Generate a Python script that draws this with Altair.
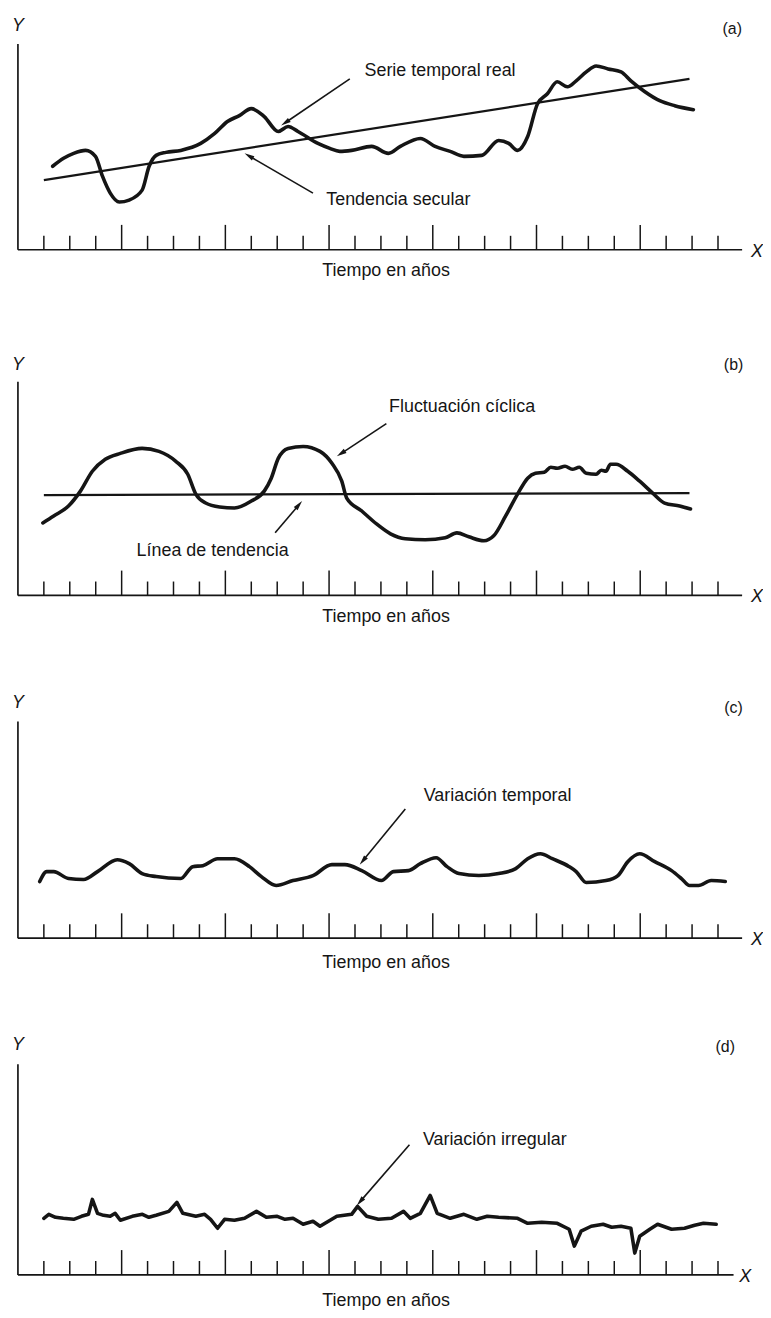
import math
import altair as alt
import pandas as pd

# ---------------- data ----------------
# x in years (ticks at whole years), y in arbitrary units above the time axis
tick_years = list(range(1, 28))
long_tick_years = [4, 8, 12, 16, 20, 24]

# (a) serie temporal real + tendencia secular
a_year = [1.34, 1.76, 2.15, 2.61, 2.99, 3.26, 3.56, 3.91, 4.29, 4.79, 5.06, 5.33, 5.71, 6.28, 7.05, 7.59,
          8.08, 8.54, 9.00, 9.50, 10.04, 10.42, 10.80, 11.57, 12.03, 12.41, 12.87, 13.64, 14.29, 14.75,
          15.52, 16.09, 16.67, 17.20, 17.89, 18.54, 18.93, 19.27, 19.66, 20.04, 20.42, 20.80, 21.19, 21.53,
          21.92, 22.30, 22.76, 23.26, 23.64, 24.18, 24.75, 25.33, 26.05]
a_value = [42, 46, 48.5, 50, 47, 37, 28.5, 24, 25, 30, 42, 47.5, 49, 50, 53.5, 58.5, 64.5, 67.5, 71, 67,
           59.5, 62, 59.5, 53.5, 51, 49.5, 50, 52, 48.5, 52, 56, 52, 49.5, 47, 47.5, 55, 53.5, 50, 57, 73.5,
           78.5, 84.5, 82, 85, 89.5, 92.5, 91, 89.5, 85, 79.5, 75, 72.5, 70.5]
a_trend_year = [1.0, 25.9]
a_trend_value = [35, 86]

# (b) fluctuación cíclica + línea de tendencia
b_year = [0.96, 1.38, 1.95, 2.41, 2.87, 3.37, 3.95, 4.79, 5.44, 6.09, 6.55, 6.86, 7.24, 7.78, 8.35, 9.00,
          9.50, 9.77, 10.04, 10.42, 11.00, 11.65, 12.11, 12.49, 12.68, 13.26, 13.83, 14.37, 14.94, 15.71,
          16.48, 16.93, 17.39, 17.97, 18.35, 18.81, 19.27, 19.66, 19.96, 20.30, 20.55, 20.80, 21.10, 21.38,
          21.65, 21.92, 22.30, 22.50, 22.68, 22.85, 23.07, 23.52, 23.98, 24.48, 24.94, 25.52, 25.94]
b_value = [36.5, 40, 45, 52.5, 62.5, 68.5, 71.5, 74, 72.5, 67.5, 61, 51, 46.5, 44.5, 44, 47.5, 52.5, 59,
           69, 74, 75, 72.5, 66.5, 57.5, 49, 42.5, 36, 31, 28.5, 28, 29, 31.5, 29.5, 27.5, 30, 40, 51, 59,
           61.5, 62, 64.5, 64, 65, 63.5, 64.5, 61.5, 61, 63, 62.5, 66, 66, 62.5, 57.5, 51.5, 46.5, 45, 43.5]
b_trend_year = [1.0, 25.9]
b_trend_value = [50.5, 51.5]

# (c) variación temporal
c_year = [0.84, 1.11, 1.38, 1.95, 2.53, 3.07, 3.83, 4.29, 4.79, 5.33, 6.28, 6.74, 7.13, 7.70, 8.35, 8.93,
          9.39, 9.96, 10.61, 11.38, 12.11, 12.61, 13.26, 14.02, 14.48, 15.06, 15.52, 16.13, 16.55, 17.01,
          17.78, 18.54, 19.20, 19.66, 20.15, 20.61, 21.26, 21.53, 21.92, 22.68, 23.14, 23.52, 23.98, 24.56,
          25.21, 25.59, 25.90, 26.25, 26.74, 27.28]
c_value = [28.5, 33.5, 33.5, 30, 29.5, 33.5, 39.5, 37.5, 32.5, 31, 30, 36, 36.5, 40, 40, 36, 31, 26.5, 29,
           31.5, 37, 37, 34, 29, 33.5, 34, 37.5, 40.5, 36, 32.5, 31.5, 32.5, 35, 40, 42.5, 40, 36, 33.5, 28,
           29, 31.5, 38.5, 42.5, 38.5, 34, 30, 26.5, 26.5, 29, 28.5]

# (d) variación irregular
d_year = [1.00, 1.19, 1.45, 1.75, 2.15, 2.45, 2.72, 2.87, 3.07, 3.30, 3.56, 3.75, 3.95, 4.41, 4.80, 5.05,
          5.33, 5.82, 6.13, 6.36, 6.86, 7.20, 7.43, 7.70, 7.97, 8.35, 8.74, 9.20, 9.58, 10.00, 10.30, 10.61,
          11.00, 11.38, 11.65, 12.30, 12.87, 13.10, 13.45, 13.90, 14.41, 14.87, 15.13, 15.52, 15.90, 16.17,
          16.67, 17.20, 17.70, 18.10, 18.54, 19.27, 19.66, 20.20, 20.80, 21.26, 21.46, 21.72, 22.11, 22.57,
          22.90, 23.26, 23.64, 23.79, 23.98, 24.37, 24.67, 25.21, 25.71, 26.10, 26.44, 26.93]
d_value = [28.5, 30.5, 29, 28.5, 28, 29.5, 30.5, 38, 31, 30, 29.5, 31, 27.5, 29.5, 30.5, 29, 30, 32, 36.5,
           31, 29.5, 30.5, 28, 23.5, 28, 27.5, 28.5, 32, 29, 29.5, 28, 28.5, 25.5, 27, 24.5, 29.5, 30.5,
           34.5, 29.5, 28, 28.5, 32, 28.5, 31, 40, 31, 28.5, 30.5, 28, 29.5, 29, 28.5, 26, 26.5, 26, 23,
           14.5, 22, 24.5, 25.5, 24, 24.5, 23.5, 11, 19.5, 23, 25.5, 23, 23.5, 25, 26, 25.5]

# ---------------- layout / style ----------------
X_DOMAIN = [-0.383, 28.544]
WIDTH = 755
PX_X = WIDTH / (X_DOMAIN[1] - X_DOMAIN[0])
PX_Y = 2.0
INK = "#151515"
FONT = "Liberation Sans Narrow, Liberation Sans, Arial Narrow, sans-serif"
HEAD = "M0,-1L0.5,1L-0.5,1Z"


def arrow_frames(arrows):
    lines, heads = [], []
    for (x1, y1, x2, y2) in arrows:
        dxp = (x2 - x1) * PX_X
        dyp = (y2 - y1) * PX_Y
        L = math.hypot(dxp, dyp)
        ux, uy = dxp / L, dyp / L
        cx = x2 - ux * 5 / PX_X
        cy = y2 - uy * 5 / PX_Y
        ang = math.degrees(math.atan2(dxp, dyp)) % 360
        lines.append({"x": x1, "y": y1, "x2": cx, "y2": cy})
        heads.append({"x": cx, "y": cy, "angle": ang})
    return pd.DataFrame(lines), pd.DataFrame(heads)


def panel(cx, cy, interp, trend, labels, arrows, letter, ytop, xend, xlab_x, ylab_y, letter_xy,
          tiempo_y, ydom, height):
    xs = alt.Scale(domain=X_DOMAIN, nice=False, zero=False)
    ys = alt.Scale(domain=ydom, nice=False, zero=False)

    def X(f):
        return alt.X(f, type="quantitative", scale=xs, axis=None)

    def Y(f):
        return alt.Y(f, type="quantitative", scale=ys, axis=None)

    layers = []
    axes_df = pd.DataFrame({"x": [0, 0], "y": [0, 0], "x2": [0, xend], "y2": [ytop, 0]})
    layers.append(alt.Chart(axes_df).mark_rule(strokeWidth=1.7, color=INK).encode(
        x=X("x"), y=Y("y"), x2=alt.X2("x2"), y2=alt.Y2("y2")))
    ticks_df = pd.DataFrame({"t": tick_years,
                             "h": [12.5 if t in long_tick_years else 7 for t in tick_years],
                             "z": [0] * len(tick_years)})
    layers.append(alt.Chart(ticks_df).mark_rule(strokeWidth=1.5, color=INK).encode(
        x=X("t"), y=Y("z"), y2=alt.Y2("h")))
    if trend is not None:
        tdf = pd.DataFrame({"x": trend[0], "y": trend[1]})
        layers.append(alt.Chart(tdf).mark_line(strokeWidth=2.2, color=INK).encode(x=X("x"), y=Y("y")))
    cdf = pd.DataFrame({"x": cx, "y": cy})
    layers.append(alt.Chart(cdf).mark_line(strokeWidth=3.6, color=INK, interpolate=interp,
                                           strokeJoin="round", strokeCap="round").encode(
        x=X("x"), y=Y("y")))
    ldf, hdf = arrow_frames(arrows)
    layers.append(alt.Chart(ldf).mark_rule(strokeWidth=1.6, color=INK).encode(
        x=X("x"), y=Y("y"), x2=alt.X2("x2"), y2=alt.Y2("y2")))
    layers.append(alt.Chart(hdf).mark_point(shape=HEAD, filled=True, size=100, color=INK,
                                            opacity=1, strokeWidth=0).encode(
        x=X("x"), y=Y("y"), angle=alt.Angle("angle:Q", scale=None)))
    lab = pd.DataFrame(labels + [(14.2, tiempo_y, "Tiempo en años")],
                       columns=["x", "y", "text"])
    layers.append(alt.Chart(lab).mark_text(font=FONT, fontSize=18, color=INK, align="center",
                                           baseline="middle").encode(x=X("x"), y=Y("y"), text="text:N"))
    axl = pd.DataFrame([(0, ylab_y, "Y"), (xlab_x, -1, "X")], columns=["x", "y", "text"])
    layers.append(alt.Chart(axl).mark_text(font=FONT, fontSize=18, fontStyle="italic", color=INK,
                                           align="center", baseline="middle").encode(
        x=X("x"), y=Y("y"), text="text:N"))
    let = pd.DataFrame([(letter_xy[0], letter_xy[1], letter)], columns=["x", "y", "text"])
    layers.append(alt.Chart(let).mark_text(font=FONT, fontSize=16, color=INK, align="center",
                                           baseline="middle").encode(x=X("x"), y=Y("y"), text="text:N"))
    return alt.layer(*layers).properties(width=WIDTH, height=height)


pa = panel(a_year, a_value, "monotone", (a_trend_year, a_trend_value),
           [(16.28, 90, "Serie temporal real"), (14.67, 25, "Tendencia secular")],
           [(12.80, 86, 10.15, 62.5), (11.38, 28.5, 8.74, 48.5)],
           "(a)", 103.5, 27.93, 28.5, 112.5, (27.55, 111), -10.5, [-35.5, 119.5], 310)
pb = panel(b_year, b_value, "monotone", (b_trend_year, b_trend_value),
           [(17.13, 95, "Fluctuación cíclica"), (7.51, 22.5, "Línea de tendencia")],
           [(14.21, 86.5, 12.30, 70), (9.92, 31.5, 10.96, 47.5)],
           "(b)", 107.5, 27.93, 28.5, 116, (27.6, 116), -11, [-26.5, 138.5], 330)
pc = panel(c_year, c_value, "monotone", None,
           [(18.5, 71.5, "Variación temporal")],
           [(14.94, 65, 13.18, 37)],
           "(c)", 109, 27.93, 28.5, 118.5, (27.6, 116), -12.5, [-25, 146], 342)
pd_ = panel(d_year, d_value, "linear", None,
            [(18.39, 68, "Variación irregular")],
            [(15.10, 65.5, 13.07, 35)],
            "(d)", 106, 27.6, 28.05, 115.5, (27.28, 114.5), -13, [-15.5, 144.5], 320)

chart = alt.vconcat(pa, pb, pc, pd_, spacing=0, bounds="flush", padding=0,
                    background="white").configure_view(strokeWidth=0)

chart.save("out.html", embed_options={"renderer": "svg", "actions": False})
